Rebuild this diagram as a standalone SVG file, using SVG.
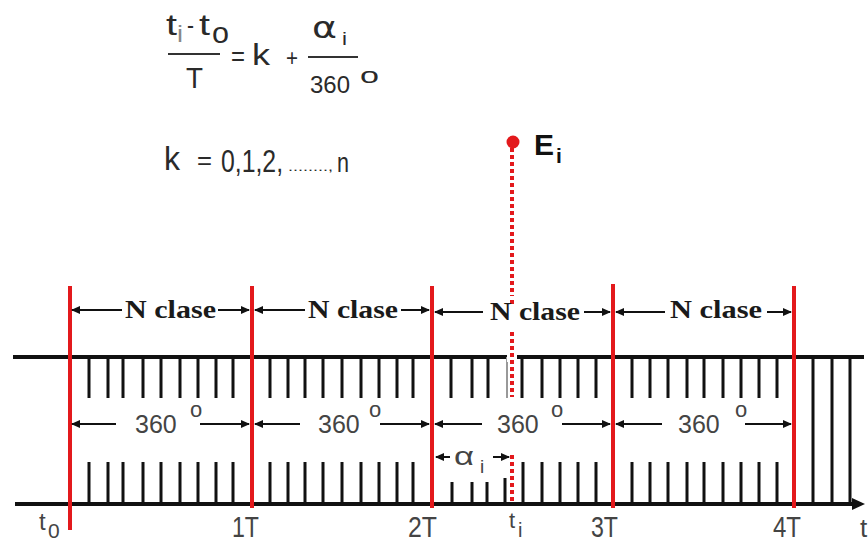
<svg xmlns="http://www.w3.org/2000/svg" width="868" height="542" viewBox="0 0 868 542">
<defs>
<marker id="ah" markerWidth="9" markerHeight="8" refX="8" refY="4" orient="auto" markerUnits="userSpaceOnUse">
<path d="M0,0 L9,4 L0,8 z" fill="#111"/>
</marker>
<style>
.sans{font-family:"Liberation Sans",Arial,sans-serif;fill:#2a2a2a}
.gray{font-family:"Liberation Sans",Arial,sans-serif;fill:#444}
.ncl{font-family:"Liberation Serif","Times New Roman",serif;font-weight:bold;font-size:25px;fill:#1a1a1a}
.axis{stroke:#111;stroke-width:4;fill:none}
.tick{stroke:#111;stroke-width:3}
.red{stroke:#e3191c;stroke-width:4}
.dash{stroke:#e3191c;stroke-width:4;stroke-dasharray:4 3}
.arr{stroke:#111;stroke-width:2;fill:none;marker-end:url(#ah)}
</style>
</defs>
<rect width="868" height="542" fill="#fff"/>

<g id="formula" class="sans">
<text x="166" y="35" font-size="30" textLength="11" lengthAdjust="spacingAndGlyphs">t</text>
<text x="177" y="42" font-size="24" fill="#888" textLength="6" lengthAdjust="spacingAndGlyphs">i</text>
<text x="187" y="34" font-size="26" textLength="7" lengthAdjust="spacingAndGlyphs">-</text>
<text x="199" y="35" font-size="30" textLength="11" lengthAdjust="spacingAndGlyphs">t</text>
<text x="212" y="43" font-size="29" textLength="17" lengthAdjust="spacingAndGlyphs">o</text>
<line x1="168" y1="54" x2="220" y2="54" stroke="#333" stroke-width="2"/>
<text x="186" y="88" font-size="30" textLength="17" lengthAdjust="spacingAndGlyphs">T</text>
<text x="231" y="66" font-size="27" textLength="14" lengthAdjust="spacingAndGlyphs">=</text>
<text x="252" y="65" font-size="29" textLength="18" lengthAdjust="spacingAndGlyphs">k</text>
<text x="286" y="66" font-size="24" textLength="12" lengthAdjust="spacingAndGlyphs">+</text>
<line x1="308" y1="57" x2="358" y2="57" stroke="#333" stroke-width="2"/>
<text x="312" y="38" font-size="30" textLength="25" lengthAdjust="spacingAndGlyphs" style="font-family:'DejaVu Sans',sans-serif;font-weight:normal">α</text>
<text x="342" y="45" font-size="19" textLength="5" lengthAdjust="spacingAndGlyphs">i</text>
<text x="310" y="93" font-size="24" textLength="40" lengthAdjust="spacingAndGlyphs">360</text>
<text x="360" y="83" font-size="22" textLength="19" lengthAdjust="spacingAndGlyphs">o</text>
</g>

<g id="k-range" class="sans">
<text x="164" y="170" font-size="34" textLength="16" lengthAdjust="spacingAndGlyphs">k</text>
<text x="197" y="169" font-size="26" textLength="15" lengthAdjust="spacingAndGlyphs">=</text>
<text transform="translate(221,172) scale(0.8,1)" font-size="31">0,1,2,</text>
<text transform="translate(288,171) scale(1.5,1)" font-size="12">........,</text>
<text x="337" y="172" font-size="27" textLength="12" lengthAdjust="spacingAndGlyphs">n</text>
</g>

<g id="axes">
<line class="axis" x1="13" y1="357" x2="864" y2="357"/>
<line x1="15" y1="504" x2="856" y2="504" stroke="#111" stroke-width="4"/>
<path d="M852,498 L865,504 L852,510 z" fill="#111"/>
</g>

<g id="ticks-top">
<path class="tick" d="M89,357V398M108,357V398M123,357V398M143,357V398M161,357V398M180,357V398M198,357V398M216,357V398M233,357V398
M270,357V398M288,357V398M305,357V398M323,357V398M342,357V398M361,357V398M379,357V398M397,357V398M413,357V398
M451,357V398M472,357V398M488,357V398M522,357V398M542,357V398M560,357V398M578,357V398M596,357V398
M632,357V398M650,357V398M668,357V398M687,357V398M704,357V398M723,357V398M741,357V398M759,357V398M777,357V398"/>
<line x1="507" y1="357" x2="507" y2="398" stroke="#999" stroke-width="2"/>
</g>

<g id="ticks-bottom">
<path class="tick" d="M89,462V504M108,462V504M123,462V504M143,462V504M161,462V504M180,462V504M198,462V504M216,462V504M233,462V504
M270,462V504M288,462V504M305,462V504M323,462V504M342,462V504M361,462V504M379,462V504M397,462V504M413,462V504
M452,482V504M472,482V504M487,482V504M505,478V504M523,462V504M542,462V504M560,462V504M578,462V504M596,462V504
M632,462V504M650,462V504M668,462V504M687,462V504M704,462V504M723,462V504M741,462V504M759,462V504M777,462V504"/>
<path class="tick" d="M813,357V504M832,357V504M850,357V504"/>
</g>

<g id="periods">
<line class="red" x1="70" y1="286" x2="70" y2="530"/>
<line class="red" x1="252" y1="286" x2="252" y2="508"/>
<line class="red" x1="432" y1="286" x2="432" y2="508"/>
<line class="red" x1="613" y1="284" x2="613" y2="508"/>
<line class="red" x1="794" y1="286" x2="794" y2="508"/>
</g>

<g id="event">
<rect x="507" y="352" width="10" height="10" fill="#fff"/>
<path class="dash" d="M512,148V296M512,300V307M512,332V397M512,455V504"/>
<circle cx="513" cy="142" r="6.5" fill="#e3191c"/>
<text x="534" y="155" font-family="Liberation Sans,Arial,sans-serif" font-weight="bold" font-size="30" fill="#111">E</text>
<text x="556" y="163" font-family="Liberation Sans,Arial,sans-serif" font-weight="bold" font-size="21" fill="#111">i</text>
</g>

<g id="connectors">
<line class="arr" x1="122" y1="310" x2="72" y2="310"/>
<line class="arr" x1="218" y1="310" x2="249" y2="310"/>
<line class="arr" x1="305" y1="310" x2="255" y2="310"/>
<line class="arr" x1="401" y1="310" x2="429" y2="310"/>
<line class="arr" x1="483" y1="312" x2="435" y2="312"/>
<line class="arr" x1="584" y1="312" x2="610" y2="312"/>
<line class="arr" x1="665" y1="312" x2="616" y2="312"/>
<line class="arr" x1="767" y1="312" x2="791" y2="312"/>

<line class="arr" x1="116" y1="424" x2="72" y2="424"/>
<line class="arr" x1="200" y1="424" x2="249" y2="424"/>
<line class="arr" x1="300" y1="424" x2="255" y2="424"/>
<line class="arr" x1="380" y1="424" x2="429" y2="424"/>
<line class="arr" x1="482" y1="424" x2="435" y2="424"/>
<line class="arr" x1="562" y1="424" x2="610" y2="424"/>
<line class="arr" x1="662" y1="424" x2="616" y2="424"/>
<line class="arr" x1="745" y1="424" x2="791" y2="424"/>

<line class="arr" x1="450" y1="457" x2="436" y2="457"/>
<line class="arr" x1="493" y1="457" x2="509" y2="457"/>
</g>

<g id="labels-nclase">
<text class="ncl" x="125" y="318" textLength="91" lengthAdjust="spacingAndGlyphs">N clase</text>
<text class="ncl" x="308" y="318" textLength="90" lengthAdjust="spacingAndGlyphs">N clase</text>
<text class="ncl" x="490" y="320" textLength="90" lengthAdjust="spacingAndGlyphs">N clase</text>
<text class="ncl" x="670" y="318" textLength="92" lengthAdjust="spacingAndGlyphs">N clase</text>
</g>

<g id="labels-360" class="gray">
<text x="135" y="433" font-size="25">360</text>
<text x="190" y="417" font-size="22">o</text>
<text x="318" y="433" font-size="25">360</text>
<text x="369" y="417" font-size="22">o</text>
<text x="497" y="433" font-size="25">360</text>
<text x="551" y="417" font-size="22">o</text>
<text x="678" y="433" font-size="25">360</text>
<text x="735" y="417" font-size="22">o</text>
<text x="454" y="465" font-size="26" textLength="20" lengthAdjust="spacingAndGlyphs">α</text>
<text x="480" y="473" font-size="19">i</text>
</g>

<g id="labels-time" class="gray">
<text x="39" y="530" font-size="24">t</text>
<text x="48" y="538" font-size="21">0</text>
<text x="232" y="537" font-size="29" textLength="27" lengthAdjust="spacingAndGlyphs">1T</text>
<text x="408" y="537" font-size="29" textLength="29" lengthAdjust="spacingAndGlyphs">2T</text>
<text x="509" y="528" font-size="22">t</text>
<text x="518" y="537" font-size="20">i</text>
<text x="591" y="537" font-size="29" textLength="27" lengthAdjust="spacingAndGlyphs">3T</text>
<text x="773" y="537" font-size="29" textLength="28" lengthAdjust="spacingAndGlyphs">4T</text>
<text x="860" y="537" font-size="26">t</text>
</g>
</svg>
